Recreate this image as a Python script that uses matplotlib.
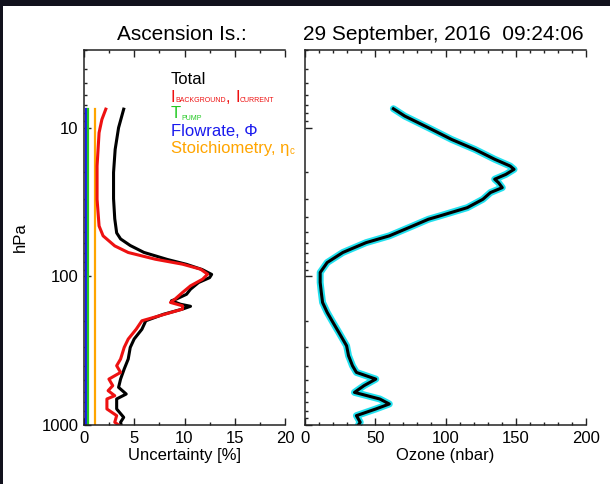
import matplotlib.pyplot as plt
from matplotlib.patches import Rectangle
from matplotlib.ticker import MultipleLocator, LogLocator, NullFormatter, FuncFormatter

plt.rcParams['font.family'] = ['Liberation Sans', 'DejaVu Sans']

# Total uncertainty (%) against pressure (hPa)
p_total = [7.5, 10, 14, 20, 30, 41, 51, 56, 62, 69, 77, 83, 90, 97, 102, 110,
           122, 132, 142, 146, 154, 159, 166, 180, 199, 227, 264, 301, 360, 420,
           491, 558, 619, 668, 780, 888, 958, 1000]
u_total = [3.95, 3.44, 3.1, 2.94, 2.94, 3.06, 3.25, 3.64, 4.6, 5.96, 8.3, 10.2,
           11.76, 12.7, 12.5, 11.4, 10.6, 10.2, 9.2, 8.7, 9.6, 10.6, 9.8, 7.9,
           6.15, 5.76, 4.99, 4.6, 4.4, 4.0, 3.64, 3.44, 4.2, 3.25, 3.25, 3.95,
           3.64, 3.7]

# Background / cell current uncertainty
p_current = [7.5, 8.8, 10.8, 18.1, 30.3, 45.8, 53.4, 62.4, 69.1, 76.7, 82.8,
             89.5, 96.7, 104.5, 115.8, 128.4, 142.4, 149.8, 157.8, 166.1, 184.2,
             199.0, 226.5, 264.2, 300.6, 360, 399.4, 442.8, 491, 543.6, 587.5,
             635.1, 668.3, 780.1, 864.9, 958.5, 1000]
u_current = [2.17, 1.78, 1.5, 1.3, 1.3, 1.5, 1.9, 3.06, 4.4, 7.1, 9.8, 11.6,
             12.3, 11.8, 10.6, 9.8, 9.05, 8.6, 9.8, 9.8, 7.5, 5.76, 5.2, 4.4,
             4.0, 3.64, 3.25, 3.64, 2.48, 2.86, 2.4, 3.06, 2.28, 2.28, 3.25,
             3.06, 3.44]

# constant contributions (%), from top of profile to ground
p_const = [7.45, 1000]
u_flow = 0.15
u_pump = 0.4
u_stoich = 1.1

# Ozone partial pressure (nbar)
p_ozone = [7.45, 8.35, 10, 12.0, 14.0, 16.3, 18.1, 19.05, 20.6, 22.2, 23.4,
           25.3, 27.3, 30.3, 34.5, 39.2, 41.3, 45.8, 53.4, 59.3, 64.0, 69.1,
           80.7, 94.2, 110.0, 128.4, 149.8, 174.8, 204.2, 238.4, 293.1, 342,
           399.4, 442.8, 491, 543.6, 603.4, 668.3, 722.1, 780.1, 864.9, 958.5,
           1000]
ozone = [62.9, 71, 87.8, 104.4, 121, 135, 146, 148.8, 143, 135, 137.7, 140.4,
         132, 126.6, 115.5, 96, 87.8, 76.7, 60, 43.5, 35.2, 26.9, 15.8, 10.8,
         10.8, 11.6, 12.5, 15.8, 19.9, 24.1, 29.6, 31, 33.8, 36.6, 50.4, 42,
         35.2, 53.2, 60, 50.4, 36.6, 39.3, 38]

W, H = 610, 484
fig = plt.figure(figsize=(W / 100, H / 100), dpi=100)
fig.patch.set_facecolor('#11111d')
fig.add_artist(Rectangle((3 / W, 0), 1, (H - 6) / H, transform=fig.transFigure,
                         facecolor='white', edgecolor='none', zorder=-10))

ax1 = fig.add_axes([84 / W, 59 / H, 201 / W, 375 / H])
ax2 = fig.add_axes([305 / W, 59 / H, 281 / W, 375 / H])

for ax in (ax1, ax2):
    ax.set_yscale('log')
    ax.set_ylim(1000, 3)
    ax.spines['right'].set_visible(False)
    for s in ('left', 'top', 'bottom'):
        ax.spines[s].set_linewidth(1.1)
        ax.spines[s].set_color('#222222')
    ax.yaxis.set_major_locator(LogLocator(base=10))
    ax.yaxis.set_minor_locator(LogLocator(base=10, subs=range(2, 10)))
    ax.yaxis.set_minor_formatter(NullFormatter())
    ax.tick_params(which='both', direction='in', top=True, right=False,
                   labelsize=12, pad=4, color='#222222')
    ax.tick_params(which='major', length=5, width=1)
    ax.tick_params(which='minor', length=2.5, width=1)
    ax.tick_params(axis='y', which='minor', length=2)

ax1.yaxis.set_major_formatter(FuncFormatter(lambda v, _: f'{v:g}'))
ax2.tick_params(labelleft=False)

ax1.set_xlim(0, 20)
ax1.xaxis.set_major_locator(MultipleLocator(5))
ax1.xaxis.set_minor_locator(MultipleLocator(2.5))
ax2.set_xlim(0, 200)
ax2.xaxis.set_major_locator(MultipleLocator(50))
ax2.xaxis.set_minor_locator(MultipleLocator(10))

# uncertainty panel
ax1.plot([u_flow, u_flow], p_const, color='#1a1aee', lw=1.6)
ax1.plot([u_pump, u_pump], p_const, color='#22c922', lw=1.6)
ax1.plot([u_stoich, u_stoich], p_const, color='#ffa500', lw=1.6)
ax1.plot(u_total, p_total, color='black', lw=2.2)
ax1.plot(u_current, p_current, color='#ee1111', lw=2.2)

# ozone panel
ax2.plot(ozone, p_ozone, color='#22e0ee', lw=5, solid_capstyle='round')
ax2.plot(ozone, p_ozone, color='black', lw=2.2)

ax1.set_xlabel('Uncertainty [%]', fontsize=12, labelpad=2)
ax2.set_xlabel('Ozone (nbar)', fontsize=12, labelpad=2)
ax1.set_ylabel('hPa', fontsize=12, labelpad=10)

fig.text(182 / W, 1 - 35 / H, 'Ascension Is.:', ha='center', va='center',
         fontsize=15)
fig.text(443 / W, 1 - 35 / H, '29 September, 2016  09:24:06', ha='center',
         va='center', fontsize=15)


def label_row(ypix, parts, color):
    y = (484 - 59 - ypix) / 375
    t = ax1.text((171 - 84) / 201, y, parts[0][0], transform=ax1.transAxes,
                 fontsize=parts[0][1], color=color, va='center')
    for s, size in parts[1:]:
        t = ax1.annotate(s, xy=(1, 0), xycoords=t, fontsize=size, color=color,
                         va='bottom')


label_row(80 - 59 + 59, [('Total', 12)], 'black')
label_row(97, [('I', 12), ('BACKGROUND', 5), (', ', 12), ('I', 12),
               ('CURRENT', 5)], '#ee1111')
label_row(114, [('T', 12), ('PUMP', 5)], '#22c922')
label_row(131, [('Flowrate, \u03a6', 12)], '#1a1aee')
label_row(148, [('Stoichiometry, \u03b7', 12), ('c', 7)], '#ffa500')

fig.savefig('out.png', dpi=100, facecolor=fig.get_facecolor())
